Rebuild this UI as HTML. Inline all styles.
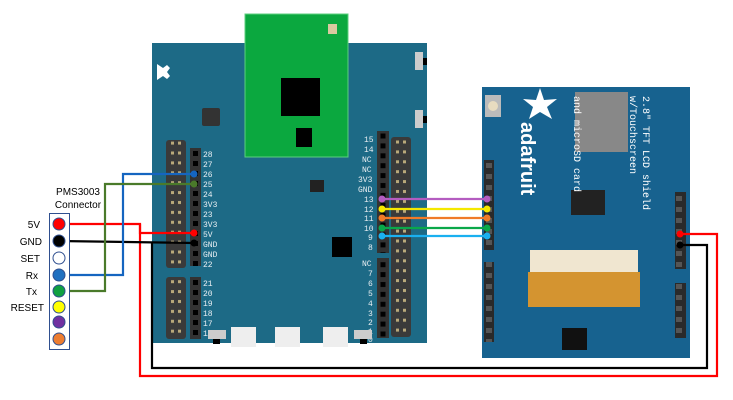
<!DOCTYPE html>
<html><head><meta charset="utf-8"><style>
body{margin:0;background:#fff;}
svg{display:block;font-family:"Liberation Sans",sans-serif;}
.pn{font-family:"Liberation Mono",monospace;font-size:8px;fill:#e8eef2;}
</style></head><body>
<svg width="733" height="400" viewBox="0 0 733 400" xmlns="http://www.w3.org/2000/svg">
<defs>
<pattern id="dp" x="166" y="148" width="20" height="9.9" patternUnits="userSpaceOnUse">
<rect x="0" y="0" width="20" height="9.9" fill="#3a3a3a"/>
<rect x="5" y="3.5" width="3" height="3" fill="#b9a97a"/><rect x="12" y="3.5" width="3" height="3" fill="#b9a97a"/>
</pattern>
<pattern id="dp2" x="391" y="137" width="20" height="9.9" patternUnits="userSpaceOnUse">
<rect x="0" y="0" width="20" height="9.9" fill="#3a3a3a"/>
<rect x="5" y="3.5" width="3" height="3" fill="#b9a97a"/><rect x="12" y="3.5" width="3" height="3" fill="#b9a97a"/>
</pattern>
<pattern id="sp" x="377" y="131" width="12" height="9.9" patternUnits="userSpaceOnUse">
<rect x="0" y="0" width="12" height="9.9" fill="#333"/>
<rect x="3.5" y="2.5" width="5" height="5" fill="#000"/>
</pattern>
<pattern id="sh" x="484" y="160" width="10" height="11" patternUnits="userSpaceOnUse">
<rect x="0" y="0" width="10" height="11" fill="#2a2a2a"/>
<rect x="2" y="3" width="6" height="5" fill="#555"/>
</pattern>
</defs>
<!-- main board -->
<rect x="152" y="43" width="275" height="300" fill="#1d6a86"/>
<!-- green module -->
<rect x="245" y="14" width="103" height="143" fill="#0ba83f" stroke="#5ccf7f" stroke-width="1"/>
<rect x="328" y="24" width="9" height="10" fill="#d9c9a0"/>
<rect x="281" y="78" width="39" height="38" fill="#000"/>
<rect x="296" y="128" width="16" height="19" fill="#000"/>
<!-- logo -->
<path d="M157 64 l6 4 l4 -3 l3 3 l-3 4 l3 4 l-3 3 l-4 -3 l-6 4z" fill="#fff"/>
<!-- buttons right top -->
<rect x="415" y="52" width="8" height="18" fill="#ccc"/><rect x="423" y="58" width="4" height="7" fill="#000"/>
<rect x="415" y="110" width="8" height="18" fill="#ccc"/><rect x="423" y="116" width="4" height="7" fill="#000"/>
<!-- swd header -->
<rect x="202" y="108" width="18" height="18" fill="#333" rx="2"/>
<rect x="310" y="180" width="14" height="12" fill="#222"/>
<rect x="332" y="237" width="20" height="20" fill="#000"/>
<!-- left double pin column -->
<rect x="166" y="140" width="20" height="128" fill="url(#dp)" rx="3"/>
<rect x="166" y="277" width="20" height="62" fill="url(#dp)" rx="3"/>
<!-- left single header -->
<rect x="190" y="148" width="11" height="118" fill="#333"/>
<rect x="190" y="277" width="11" height="62" fill="#333"/>
<g fill="#000">
<rect x="193" y="151" width="5" height="5"/><rect x="193" y="161" width="5" height="5"/><rect x="193" y="171" width="5" height="5"/><rect x="193" y="181" width="5" height="5"/><rect x="193" y="191" width="5" height="5"/><rect x="193" y="201" width="5" height="5"/><rect x="193" y="211" width="5" height="5"/><rect x="193" y="221" width="5" height="5"/><rect x="193" y="231" width="5" height="5"/><rect x="193" y="241" width="5" height="5"/><rect x="193" y="251" width="5" height="5"/><rect x="193" y="261" width="5" height="5"/>
<rect x="193" y="280" width="5" height="5"/><rect x="193" y="290" width="5" height="5"/><rect x="193" y="300" width="5" height="5"/><rect x="193" y="310" width="5" height="5"/><rect x="193" y="320" width="5" height="5"/><rect x="193" y="330" width="5" height="5"/>
</g>
<g class="pn">
<text x="203" y="157">28</text><text x="203" y="167">27</text><text x="203" y="177">26</text><text x="203" y="187">25</text><text x="203" y="197">24</text><text x="203" y="207">3V3</text><text x="203" y="217">23</text><text x="203" y="227">3V3</text><text x="203" y="237">5V</text><text x="203" y="247">GND</text><text x="203" y="257">GND</text><text x="203" y="267">22</text>
<text x="203" y="286">21</text><text x="203" y="296">20</text><text x="203" y="306">19</text><text x="203" y="316">18</text><text x="203" y="326">17</text><text x="203" y="336">16</text>
</g>
<!-- right headers -->
<rect x="377" y="131" width="12" height="122" fill="url(#sp)"/>
<rect x="377" y="258" width="12" height="80" fill="url(#sp)"/>
<rect x="391" y="137" width="20" height="200" fill="url(#dp2)" rx="3"/>
<g class="pn">
<text x="364" y="142">15</text><text x="364" y="152">14</text><text x="362" y="162">NC</text><text x="362" y="172">NC</text><text x="358" y="182">3V3</text><text x="358" y="192">GND</text><text x="364" y="202">13</text><text x="364" y="212">12</text><text x="364" y="221">11</text><text x="364" y="231">10</text><text x="368" y="240">9</text><text x="368" y="250">8</text>
<text x="362" y="266">NC</text><text x="368" y="276">7</text><text x="368" y="286">6</text><text x="368" y="296">5</text><text x="368" y="306">4</text><text x="368" y="316">3</text><text x="368" y="325">2</text><text x="368" y="334">1</text><text x="368" y="342">0</text>
</g>
<!-- bottom connectors -->
<rect x="208" y="330" width="18" height="9" fill="#ccc"/><rect x="213" y="339" width="7" height="5" fill="#000"/>
<rect x="231" y="327" width="25" height="20" fill="#eee"/>
<rect x="275" y="327" width="25" height="20" fill="#eee"/>
<rect x="323" y="327" width="25" height="20" fill="#eee"/>
<rect x="354" y="330" width="18" height="9" fill="#ccc"/><rect x="360" y="339" width="7" height="5" fill="#000"/>

<!-- shield -->
<rect x="482" y="87" width="208" height="271" fill="#17628f"/>
<rect x="485" y="95" width="16" height="22" fill="#bbb"/><circle cx="493" cy="106" r="5" fill="#e8dcc0"/>
<path d="M540 88 l4 12 l13 -1 l-10 8 l5 12 l-12 -7 l-11 7 l4 -12 l-10 -8 l13 1z" fill="#fff"/>
<rect x="575" y="92" width="53" height="60" fill="#888"/>
<rect x="571" y="190" width="34" height="25" fill="#222"/>
<rect x="530" y="250" width="108" height="22" fill="#f0e6d0"/>
<rect x="528" y="272" width="112" height="35" fill="#d49430"/>
<rect x="562" y="328" width="25" height="22" fill="#111"/>
<text x="0" y="0" transform="translate(521,122) rotate(90)" font-size="20" font-weight="bold" fill="#fff">adafruit</text>
<text x="0" y="0" transform="translate(574,96) rotate(90)" font-size="10" fill="#fff" font-family="Liberation Mono">and microSD card</text>
<text x="0" y="0" transform="translate(643,96) rotate(90)" font-size="10" fill="#fff" font-family="Liberation Mono">2.8" TFT LCD shield</text>
<text x="0" y="0" transform="translate(630,96) rotate(90)" font-size="10" fill="#fff" font-family="Liberation Mono">w/Touchscreen</text>
<rect x="484" y="160" width="10" height="90" fill="url(#sh)"/>
<rect x="484" y="262" width="10" height="80" fill="url(#sh)"/>
<rect x="675" y="192" width="11" height="77" fill="url(#sh)"/>
<rect x="675" y="283" width="11" height="55" fill="url(#sh)"/>

<!-- wires -->
<g fill="none" stroke-width="2.2">
<polyline points="59,224 140,224 140,233 194,233" stroke="#f00"/>
<polyline points="140,224 140,376 717,376 717,234 680,234" stroke="#f00"/>
<polyline points="59,241 194,243" stroke="#000"/>
<polyline points="152,243 152,368 707,368 707,245 680,245" stroke="#000"/>
<polyline points="59,275 123,275 123,174 194,174" stroke="#1565c0"/>
<polyline points="59,291 105,291 105,184 194,184" stroke="#4a7a2a"/>
<line x1="382" y1="199" x2="487" y2="199" stroke="#b45cc0"/>
<line x1="382" y1="209" x2="487" y2="209" stroke="#f5e800"/>
<line x1="382" y1="218" x2="487" y2="218" stroke="#f07a28"/>
<line x1="382" y1="228" x2="487" y2="228" stroke="#0aa84a"/>
<line x1="382" y1="236" x2="487" y2="236" stroke="#1ab0f0"/>
</g>
<circle cx="194" cy="174" r="3.5" fill="#1565c0"/><circle cx="194" cy="184" r="3.5" fill="#4a7a2a"/>
<circle cx="194" cy="233" r="3.5" fill="#f00"/><circle cx="194" cy="243" r="3.5" fill="#000"/>
<circle cx="382" cy="199" r="3.5" fill="#b45cc0"/><circle cx="487" cy="199" r="3.5" fill="#b45cc0"/>
<circle cx="382" cy="209" r="3.5" fill="#f5e800"/><circle cx="487" cy="209" r="3.5" fill="#f5e800"/>
<circle cx="382" cy="218" r="3.5" fill="#f07a28"/><circle cx="487" cy="218" r="3.5" fill="#f07a28"/>
<circle cx="382" cy="228" r="3.5" fill="#0aa84a"/><circle cx="487" cy="228" r="3.5" fill="#0aa84a"/>
<circle cx="382" cy="236" r="3.5" fill="#1ab0f0"/><circle cx="487" cy="236" r="3.5" fill="#1ab0f0"/>
<circle cx="680" cy="234" r="3.5" fill="#f00"/><circle cx="680" cy="245" r="3.5" fill="#000"/>

<!-- PMS3003 connector -->
<text x="78" y="195" font-size="10" text-anchor="middle" fill="#000">PMS3003</text>
<text x="78" y="208" font-size="10" text-anchor="middle" fill="#000">Connector</text>
<rect x="49.5" y="213.5" width="20" height="136" fill="#fff" stroke="#2f4f8f" stroke-width="1"/>
<g stroke="#2f4f8f" stroke-width="1">
<circle cx="59" cy="224" r="6" fill="#f00"/>
<circle cx="59" cy="241" r="6" fill="#000"/>
<circle cx="59" cy="258" r="6" fill="#fff"/>
<circle cx="59" cy="275" r="6" fill="#2070c0"/>
<circle cx="59" cy="291" r="6" fill="#10a040"/>
<circle cx="59" cy="307" r="6" fill="#ff0"/>
<circle cx="59" cy="322" r="6" fill="#7030a0"/>
<circle cx="59" cy="339" r="6" fill="#ed7d31"/>
</g>
<g font-size="10" fill="#000" text-anchor="end">
<text x="40" y="228">5V</text><text x="42" y="245">GND</text><text x="40" y="262">SET</text><text x="38" y="279">Rx</text><text x="37" y="295">Tx</text><text x="44" y="311">RESET</text>
</g>
</svg>
</body></html>
